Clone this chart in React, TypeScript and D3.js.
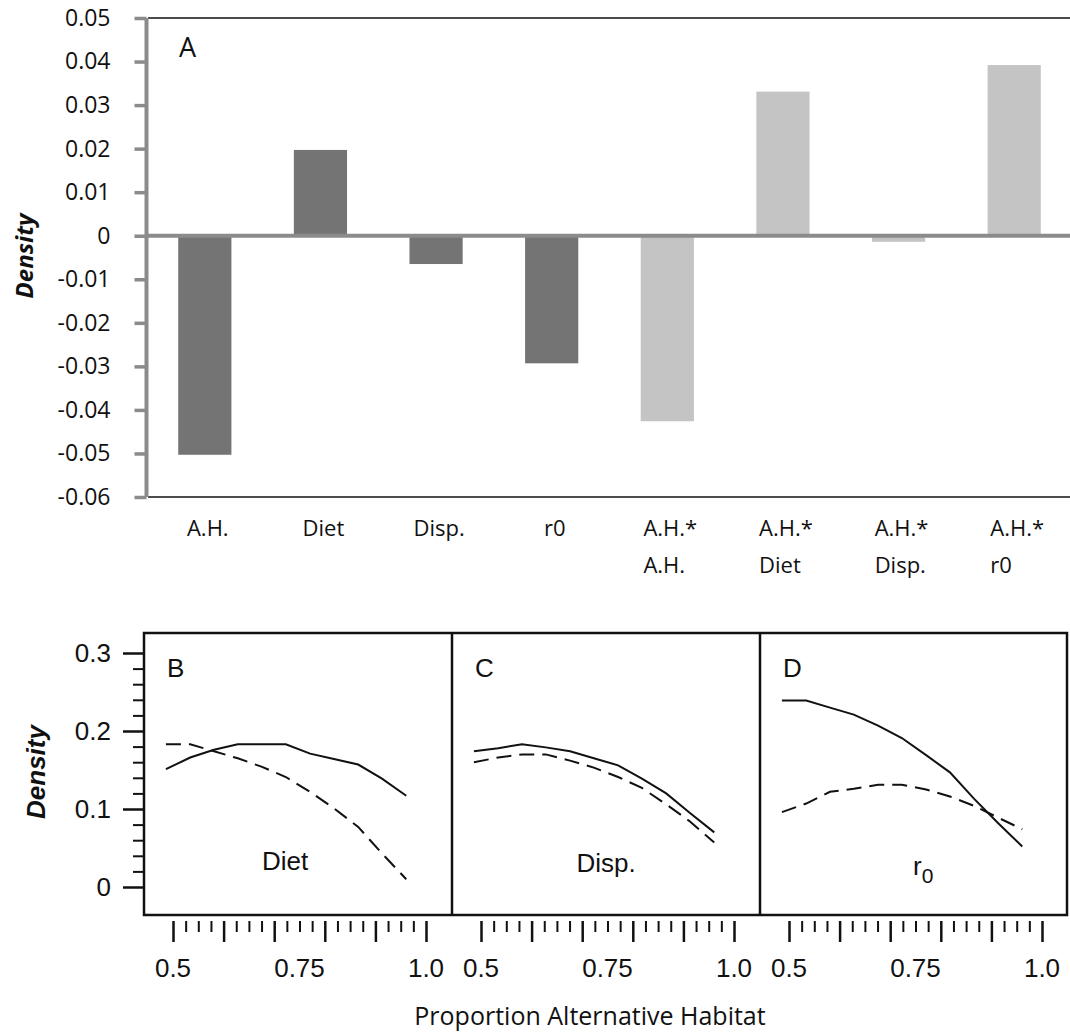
import React, { useRef, useEffect } from 'react';
import * as d3 from 'd3';

// panel A: regression coefficients
const categories = ['A.H.', 'Diet', 'Disp.', 'r0', 'A.H.*\nA.H.', 'A.H.*\nDiet', 'A.H.*\nDisp.', 'A.H.*\nr0'];
const coefficients = [-0.0503, 0.0197, -0.0065, -0.0293, -0.0426, 0.0331, -0.0014, 0.0392];
const termType = ['main', 'main', 'main', 'main', 'inter', 'inter', 'inter', 'inter'];
const coefTicks = [0.05, 0.04, 0.03, 0.02, 0.01, 0, -0.01, -0.02, -0.03, -0.04, -0.05, -0.06];

// panels B-D: density vs proportion alternative habitat
const habitat = [0.486, 0.534, 0.581, 0.628, 0.676, 0.723, 0.771, 0.818, 0.866, 0.913, 0.961];
const dietSolid = [0.151, 0.166, 0.176, 0.183, 0.183, 0.183, 0.171, 0.164, 0.157, 0.139, 0.117];
const dietDashed = [0.183, 0.183, 0.174, 0.165, 0.154, 0.141, 0.122, 0.101, 0.077, 0.043, 0.01];
const dispSolid = [0.174, 0.178, 0.183, 0.179, 0.174, 0.165, 0.156, 0.139, 0.12, 0.095, 0.07];
const dispDashed = [0.16, 0.166, 0.17, 0.17, 0.162, 0.153, 0.141, 0.127, 0.106, 0.084, 0.057];
const r0Solid = [0.239, 0.239, 0.23, 0.221, 0.207, 0.191, 0.169, 0.147, 0.113, 0.082, 0.052];
const r0Dashed = [0.096, 0.107, 0.122, 0.126, 0.131, 0.131, 0.125, 0.116, 0.104, 0.089, 0.074];

const panelLetters = ['B', 'C', 'D'];
const panelNames = ['Diet', 'Disp.', 'r'];
const solidSeries = [dietSolid, dispSolid, r0Solid];
const dashedSeries = [dietDashed, dispDashed, r0Dashed];
const densityMajor = [0, 0.1, 0.2, 0.3];
const densityMajorLabels = ['0', '0.1', '0.2', '0.3'];
const densityMinor = [0.02, 0.04, 0.06, 0.08, 0.12, 0.14, 0.16, 0.18, 0.22, 0.24, 0.26, 0.28];
const habitatMajor = [0.5, 0.6, 0.7, 0.8, 0.9, 1.0];
const habitatMinor = [0.525, 0.55, 0.575, 0.625, 0.65, 0.675, 0.725, 0.75, 0.775, 0.825, 0.85, 0.875, 0.925, 0.95, 0.975];
const habitatLabelValues = [0.5, 0.75, 1.0];
const habitatLabels = ['0.5', '0.75', '1.0'];

const TOP_FONT = '"Open Sans", sans-serif';
const BOT_FONT = '"Liberation Sans", Arial, sans-serif';

const App = () => {
    const chartRef = useRef<SVGSVGElement>(null);

    useEffect(() => {
        const svg = d3.select(chartRef.current);
        svg.selectAll('*').remove();

        // ---------- Panel A ----------
        const x = d3.scaleBand().domain(categories).range([147, 1072]).paddingInner(0.54).paddingOuter(0.27);
        const y = d3.scaleLinear().domain([-0.06, 0.05]).range([497, 18]);
        const gray = '#8b8b8b';

        svg.selectAll('rect.bar')
            .data(categories)
            .enter()
            .append('rect')
            .attr('class', 'bar')
            .attr('x', (d) => x(d)!)
            .attr('width', x.bandwidth())
            .attr('y', (d, i) => y(Math.max(0, coefficients[i])))
            .attr('height', (d, i) => Math.abs(y(coefficients[i]) - y(0)))
            .attr('fill', (d, i) => (termType[i] === 'main' ? '#747474' : '#c4c4c4'));

        svg.append('line').attr('x1', 148).attr('x2', 1070).attr('y1', y(0.05)).attr('y2', y(0.05))
            .attr('stroke', '#111').attr('stroke-width', 1.5);
        svg.append('line').attr('x1', 148).attr('x2', 1070).attr('y1', y(-0.06)).attr('y2', y(-0.06))
            .attr('stroke', '#111').attr('stroke-width', 1.5);
        svg.append('line').attr('x1', 146).attr('x2', 1070).attr('y1', y(0)).attr('y2', y(0))
            .attr('stroke', gray).attr('stroke-width', 4);

        const yAxis = d3.axisLeft(y)
            .tickValues(coefTicks)
            .tickSize(12)
            .tickPadding(24)
            .tickFormat((d) => (+d === 0 ? '0' : (+d).toFixed(2)));
        const ya = svg.append('g').attr('transform', 'translate(146.5,0)').call(yAxis);
        ya.select('.domain').attr('stroke', gray).attr('stroke-width', 4).attr('d', `M0,${y(0.05)}V${y(-0.06)}`);
        ya.selectAll('.tick line').attr('stroke', gray).attr('stroke-width', 3.5);
        ya.selectAll('.tick text').attr('font-family', TOP_FONT).attr('font-size', 23).attr('fill', '#111');

        svg.append('text').attr('x', 179).attr('y', 57).attr('font-family', TOP_FONT).attr('font-size', 27)
            .attr('fill', '#111').text('A');

        svg.append('text')
            .attr('transform', 'translate(33,256) rotate(-90)')
            .attr('text-anchor', 'middle')
            .attr('font-family', TOP_FONT)
            .attr('font-size', 24)
            .attr('font-weight', 'bold')
            .attr('font-style', 'italic')
            .attr('fill', '#111')
            .text('Density');

        categories.forEach((c) => {
            const lines = c.split('\n');
            const t = svg.append('text').attr('font-family', TOP_FONT).attr('font-size', 22).attr('fill', '#111');
            lines.forEach((l, j) => {
                t.append('tspan').attr('y', 536 + j * 37).text(l);
            });
            const w = d3.max(t.selectAll<SVGTSpanElement, unknown>('tspan').nodes(), (n) => n.getComputedTextLength()) || 0;
            t.selectAll('tspan').attr('x', x(c)! + x.bandwidth() / 2 - w / 2 + 3);
        });

        // ---------- Panels B-D ----------
        const top = 633, bottom = 915, left = 144, right = 1067, pw = 308;
        const ys = d3.scaleLinear().domain([0, 0.3]).range([887, 653]);

        panelLetters.forEach((p, k) => {
            const px = left + k * pw;
            const xs = d3.scaleLinear().domain([0.5, 1.0]).range([px + 29, px + 282]);
            const line = d3.line<number>().x((d, i) => xs(habitat[i])).y((d) => ys(d));

            svg.append('path').attr('d', line(solidSeries[k])!).attr('fill', 'none')
                .attr('stroke', '#111').attr('stroke-width', 2);
            svg.append('path').attr('d', line(dashedSeries[k])!).attr('fill', 'none')
                .attr('stroke', '#111').attr('stroke-width', 2).attr('stroke-dasharray', '15,8');

            svg.append('text').attr('x', px + 23).attr('y', 677).attr('font-family', BOT_FONT)
                .attr('font-size', 26).attr('fill', '#111').text(p);

            const name = svg.append('text').attr('font-family', BOT_FONT).attr('font-size', 26).attr('fill', '#111');
            if (k === 0) name.attr('x', 285).attr('y', 870).attr('text-anchor', 'middle').text(panelNames[k]);
            if (k === 1) name.attr('x', 606).attr('y', 872).attr('text-anchor', 'middle').text(panelNames[k]);
            if (k === 2) {
                name.attr('x', 913).attr('y', 875).text(panelNames[k]);
                name.append('tspan').attr('font-size', 21).attr('dy', 8).text('0');
            }

            const minorAxis = d3.axisBottom(xs).tickValues(habitatMinor).tickSize(11).tickFormat(() => '');
            const majorAxis = d3.axisBottom(xs).tickValues(habitatMajor).tickSize(21).tickFormat(() => '');
            [minorAxis, majorAxis].forEach((ax, m) => {
                const g = svg.append('g').attr('transform', 'translate(0,921)').call(ax);
                g.select('.domain').remove();
                g.selectAll('.tick line').attr('stroke', '#111').attr('stroke-width', m === 0 ? 2 : 2.5);
            });
            habitatLabelValues.forEach((v, i) => {
                svg.append('text').attr('x', xs(v)).attr('y', 977).attr('text-anchor', 'middle')
                    .attr('font-family', BOT_FONT).attr('font-size', 26).attr('fill', '#111').text(habitatLabels[i]);
            });
        });

        svg.append('rect').attr('x', left).attr('y', top).attr('width', right - left).attr('height', bottom - top)
            .attr('fill', 'none').attr('stroke', '#111').attr('stroke-width', 2.5);
        [1, 2].forEach((k) => {
            svg.append('line').attr('x1', left + k * pw).attr('x2', left + k * pw).attr('y1', top).attr('y2', bottom)
                .attr('stroke', '#111').attr('stroke-width', 2.5);
        });

        const dMinor = d3.axisLeft(ys).tickValues(densityMinor).tickSize(11).tickFormat(() => '');
        const dMajor = d3.axisLeft(ys).tickValues(densityMajor).tickSize(21).tickPadding(12)
            .tickFormat((d, i) => densityMajorLabels[i]);
        [dMinor, dMajor].forEach((ax, m) => {
            const g = svg.append('g').attr('transform', `translate(${left},0)`).call(ax);
            g.select('.domain').remove();
            g.selectAll('.tick line').attr('stroke', '#111').attr('stroke-width', m === 0 ? 2 : 2.5);
            g.selectAll('.tick text').attr('font-family', BOT_FONT).attr('font-size', 26).attr('fill', '#111');
        });

        svg.append('text')
            .attr('transform', 'translate(45,772) rotate(-90)')
            .attr('text-anchor', 'middle')
            .attr('font-family', BOT_FONT)
            .attr('font-size', 26)
            .attr('font-weight', 'bold')
            .attr('font-style', 'italic')
            .attr('fill', '#111')
            .text('Density');

        svg.append('text').attr('x', 590).attr('y', 1025).attr('text-anchor', 'middle')
            .attr('font-family', TOP_FONT).attr('font-size', 25).attr('fill', '#111')
            .text('Proportion Alternative Habitat');
    }, []);

    return (
        <svg ref={chartRef} width={1070} height={1034}
            style={{ position: 'absolute', left: 0, top: 0, background: '#fff' }} />
    );
};

export default App;
